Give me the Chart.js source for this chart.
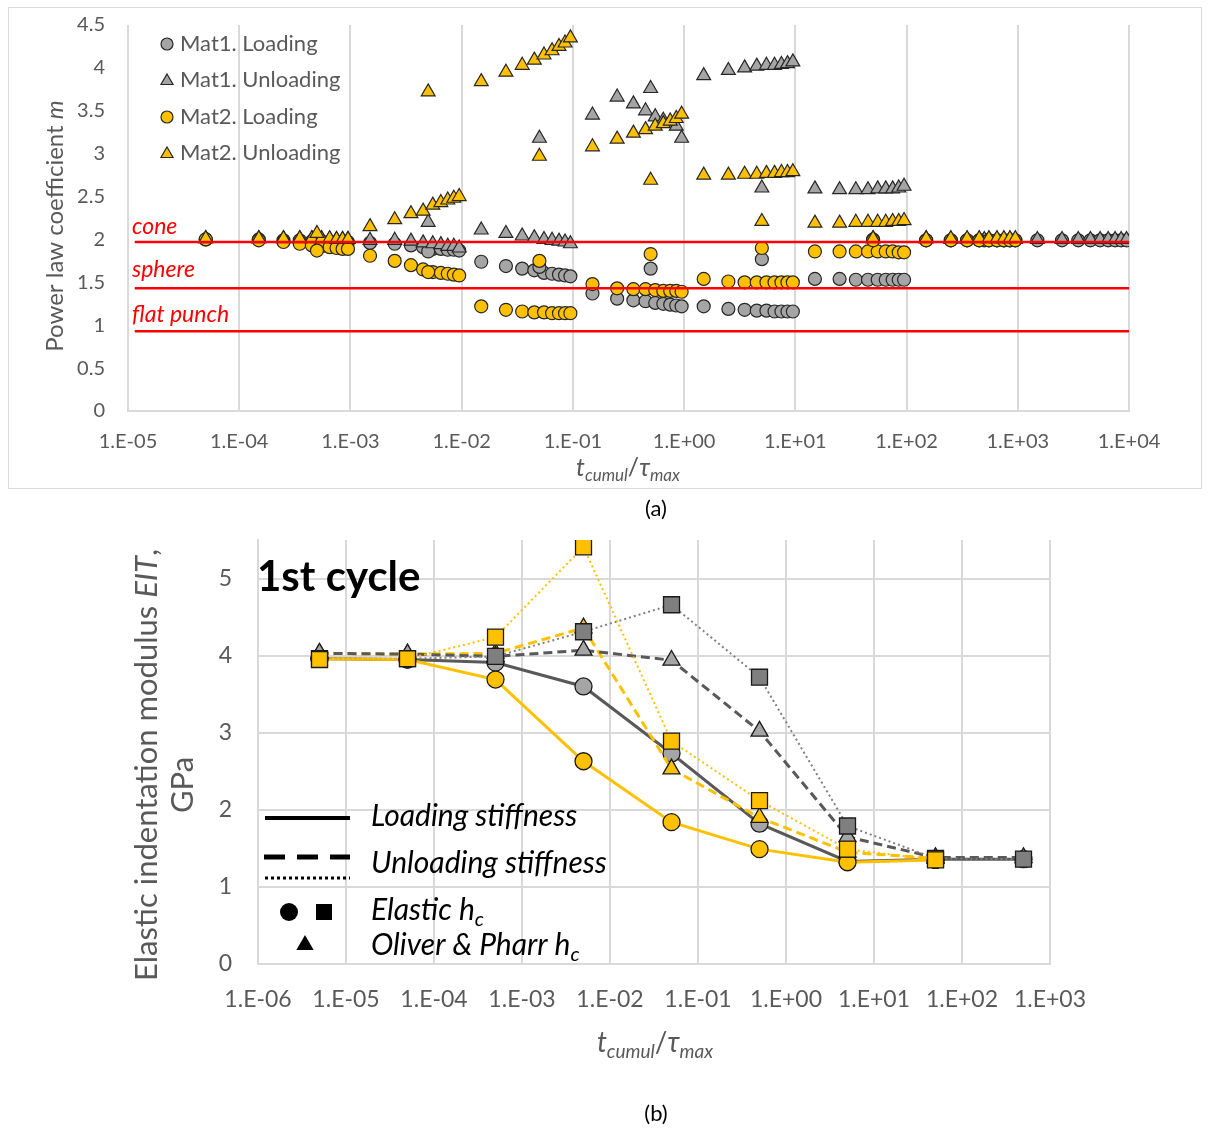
<!DOCTYPE html>
<html><head><meta charset="utf-8">
<script src="https://cdn.jsdelivr.net/npm/chart.js@4.4.1/dist/chart.umd.min.js"></script>
<style>
html,body{margin:0;padding:0;background:#fff;}
body{width:1209px;height:1131px;position:relative;overflow:hidden;font-family:Lato,"Open Sans",sans-serif;}
#boxA{position:absolute;left:8px;top:7px;width:1194px;height:482px;border:1px solid #d9d9d9;box-sizing:border-box;}
#cA{position:absolute;left:0;top:0;}
#cB{position:absolute;left:0;top:495px;}
.cap{position:absolute;width:100px;text-align:center;font:22px Lato,sans-serif;color:#000;}
</style></head>
<body>
<div id="boxA"></div>
<canvas id="cA" width="1209" height="492"></canvas>
<canvas id="cB" width="1209" height="636"></canvas>
<div class="cap" style="left:606px;top:494px;">(a)</div>
<div class="cap" style="left:606px;top:1099px;">(b)</div>
<script>
// ---------------- (a) data ----------------
const tTop = [5e-5,1.5e-4,2.5e-4,3.5e-4,4.5e-4,5.5e-4,6.5e-4,7.5e-4,8.5e-4,9.5e-4,
  5e-4,1.5e-3,2.5e-3,3.5e-3,4.5e-3,5.5e-3,6.5e-3,7.5e-3,8.5e-3,9.5e-3,
  5e-3,1.5e-2,2.5e-2,3.5e-2,4.5e-2,5.5e-2,6.5e-2,7.5e-2,8.5e-2,9.5e-2,
  5e-2,0.15,0.25,0.35,0.45,0.55,0.65,0.75,0.85,0.95,
  0.5,1.5,2.5,3.5,4.5,5.5,6.5,7.5,8.5,9.5,
  5,15,25,35,45,55,65,75,85,95,
  50,150,250,350,450,550,650,750,850,950,
  500,1500,2500,3500,4500,5500,6500,7500,8500,9500];
const mat1Loading = [2.00,2.00,1.99,1.99,1.98,1.98,1.97,1.97,1.97,1.97,
  1.97,1.96,1.95,1.93,1.91,1.89,1.89,1.88,1.88,1.87,
  1.86,1.74,1.69,1.66,1.64,1.61,1.60,1.59,1.58,1.57,
  1.68,1.37,1.31,1.29,1.28,1.26,1.25,1.24,1.23,1.22,
  1.66,1.22,1.19,1.18,1.17,1.17,1.16,1.16,1.16,1.16,
  1.77,1.54,1.54,1.53,1.53,1.53,1.53,1.53,1.53,1.53,
  2.00,1.99,1.99,1.99,1.99,1.99,1.99,1.99,1.99,1.99,
  1.99,1.99,1.99,1.99,1.99,1.99,1.99,1.99,1.99,1.99];
const mat1Unloading = [2.01,2.01,2.01,2.01,2.01,2.00,2.00,2.00,2.00,2.00,
  1.98,1.99,1.99,1.98,1.96,1.95,1.94,1.92,1.92,1.90,
  2.20,2.11,2.07,2.04,2.02,2.00,1.99,1.98,1.97,1.95,
  3.18,3.45,3.66,3.58,3.50,3.43,3.39,3.37,3.32,3.18,
  3.76,3.91,3.97,4.00,4.02,4.03,4.03,4.04,4.05,4.07,
  2.60,2.59,2.58,2.58,2.58,2.59,2.59,2.59,2.60,2.62,
  2.01,2.01,2.00,2.00,2.00,2.00,2.00,2.00,2.00,2.00,
  2.00,2.00,2.00,2.00,2.00,2.00,2.00,2.00,2.00,2.00];
const mat2Loading = [2.00,1.99,1.97,1.95,1.93,1.92,1.91,1.90,1.89,1.89,
  1.87,1.81,1.75,1.70,1.65,1.62,1.61,1.60,1.59,1.58,
  1.62,1.22,1.18,1.16,1.15,1.15,1.14,1.14,1.14,1.14,
  1.75,1.48,1.43,1.42,1.42,1.41,1.40,1.40,1.40,1.39,
  1.83,1.54,1.51,1.50,1.50,1.50,1.50,1.50,1.50,1.50,
  1.90,1.86,1.86,1.86,1.86,1.86,1.86,1.86,1.85,1.85,
  1.99,1.99,1.99,1.99,1.99,1.99,1.99,1.99,1.99,1.99,
  null,null,null,null,null,null,null,null,null,null];
const mat2Unloading = [2.01,2.01,2.01,2.01,2.01,2.01,2.01,2.00,2.00,2.00,
  2.07,2.15,2.23,2.30,2.33,2.40,2.43,2.46,2.48,2.50,
  3.72,3.84,3.95,4.03,4.09,4.15,4.20,4.25,4.29,4.35,
  2.97,3.08,3.17,3.24,3.28,3.32,3.35,3.38,3.41,3.46,
  2.69,2.75,2.75,2.76,2.76,2.77,2.77,2.78,2.78,2.79,
  2.21,2.19,2.19,2.20,2.20,2.20,2.20,2.21,2.21,2.22,
  2.01,2.01,2.01,2.01,2.01,2.01,2.01,2.01,2.01,2.01,
  null,null,null,null,null,null,null,null,null,null];
const refLineX = [1.15e-5, 1e4];
const refLineNames = ['cone','sphere','flat punch'];
const refLineM = [1.97, 1.43, 0.93];
const topXTicks = [1e-5,1e-4,1e-3,1e-2,1e-1,1,10,100,1000,10000];
const topXTickLabels = ['1.E-05','1.E-04','1.E-03','1.E-02','1.E-01','1.E+00','1.E+01','1.E+02','1.E+03','1.E+04'];
const topYTicks = [0,0.5,1,1.5,2,2.5,3,3.5,4,4.5];
const topYTickLabels = ['0','0.5','1','1.5','2','2.5','3','3.5','4','4.5'];
const topLegend = ['Mat1. Loading','Mat1. Unloading','Mat2. Loading','Mat2. Unloading'];

// ---------------- (b) data ----------------
const tCycle = [5e-6,5e-5,5e-4,5e-3,5e-2,5e-1,5,50,500];
const mat1LoadElastic   = [3.96,3.95,3.91,3.60,2.73,1.82,1.33,1.36,1.36];
const mat2LoadElastic   = [3.96,3.95,3.69,2.63,1.84,1.49,1.32,1.35,null];
const mat1UnloadOP      = [4.03,4.02,3.99,4.07,3.94,3.02,1.65,1.38,1.38];
const mat1UnloadElastic = [3.96,3.96,3.99,4.31,4.66,3.72,1.79,1.37,1.36];
const mat2UnloadOP      = [4.03,4.02,4.03,4.36,2.53,1.90,1.45,1.37,null];
const mat2UnloadElastic = [3.95,3.96,4.24,5.41,2.89,2.12,1.49,1.35,null];
const botXTicks = [1e-6,1e-5,1e-4,1e-3,1e-2,1e-1,1,10,100,1000];
const botXTickLabels = ['1.E-06','1.E-05','1.E-04','1.E-03','1.E-02','1.E-01','1.E+00','1.E+01','1.E+02','1.E+03'];
const botYTicks = [0,1,2,3,4,5];
const botYTickLabels = ['0','1','2','3','4','5'];

// ---------------- helpers ----------------
const GOLD = '#FFC000', GREY = '#A5A5A5', DGREY = '#7F7F7F', LINEGREY = '#595959', TXT = '#595959';
Chart.defaults.font.family = 'Lato';
function pts(xs, ys){ const out=[]; xs.forEach((x,i)=>{ if(ys[i]!=null) out.push({x:x,y:ys[i]}); }); return out; }

function marker(ctx, style, x, y, size, fill, stroke, lw){
  ctx.save(); ctx.beginPath();
  if(style==='circle'){ ctx.arc(x,y,size,0,Math.PI*2); }
  else if(style==='triangle'){ const w=size*1.732/2; ctx.moveTo(x,y-size); ctx.lineTo(x+w, y+size*0.5); ctx.lineTo(x-w,y+size*0.5); ctx.closePath(); }
  else { ctx.rect(x-size,y-size,2*size,2*size); }
  ctx.fillStyle=fill; ctx.fill();
  if(lw){ ctx.lineWidth=lw; ctx.strokeStyle=stroke; ctx.stroke(); }
  ctx.restore();
}
// parts: [{t, it, sub, bold}]
function rich(ctx, parts, cx, cy, size, color, align){
  const subSize = Math.round(size*0.68);
  let w=0;
  parts.forEach(p=>{ ctx.font=(p.it?'italic ':'')+(p.bold?'bold ':'')+(p.sub?subSize:size)+'px Lato'; p.w=ctx.measureText(p.t).width; w+=p.w; });
  let x = align==='left'? cx : cx - w/2;
  ctx.fillStyle=color; ctx.textBaseline='middle'; ctx.textAlign='left';
  parts.forEach(p=>{ ctx.font=(p.it?'italic ':'')+(p.bold?'bold ':'')+(p.sub?subSize:size)+'px Lato'; ctx.fillText(p.t, x, cy + (p.sub? size*0.32:0)); x+=p.w; });
}

// ---------------- chart (a) ----------------
const overlayA = { id:'overlayA', afterDraw(chart){
  const ctx=chart.ctx;
  ctx.save(); ctx.translate(55,226); ctx.rotate(-Math.PI/2);
  rich(ctx,[{t:'Power law coefficient '},{t:'m',it:true}],0,0,24,TXT);
  ctx.restore();
  rich(ctx,[{t:'t',it:true},{t:'cumul',it:true,sub:true},{t:'/'},{t:'τ',it:true},{t:'max',it:true,sub:true}],628,468,25,TXT);
  const lgY=[44,80,117,153], lgStyle=['circle','triangle','circle','triangle'], lgFill=[GREY,GREY,GOLD,GOLD];
  topLegend.forEach((s,i)=>{
    marker(ctx,lgStyle[i],167,lgY[i]+(lgStyle[i]==='triangle'?1:0),lgStyle[i]==='circle'?6:7,lgFill[i],'#262626',1.2);
    rich(ctx,[{t:s}],180,lgY[i],22,TXT,'left');
  });
  const lbY=[227,270,315];
  refLineNames.forEach((s,i)=>rich(ctx,[{t:s,it:true}],132,lbY[i],23,'#FF0000','left'));
}};

function topDs(label, ys, style, fill, r, order){
  return {label, data: pts(tTop, ys), showLine:false, pointStyle:style, pointRadius:r, pointHoverRadius:r,
    pointBackgroundColor:fill, pointBorderColor:'#262626', pointBorderWidth:1.2, order};
}
const refSets = refLineM.map((m,i)=>({label:refLineNames[i], data: refLineX.map(x=>({x:x,y:m})), showLine:true,
  borderColor:'#FF0000', borderWidth:2.5, pointRadius:0, order:0}));

new Chart(document.getElementById('cA'), {
  type:'scatter',
  data:{ datasets:[
    ...refSets,
    topDs('Mat2. Unloading', mat2Unloading, 'triangle', GOLD, 8, 1),
    topDs('Mat2. Loading', mat2Loading, 'circle', GOLD, 6.5, 2),
    topDs('Mat1. Unloading', mat1Unloading, 'triangle', GREY, 8, 3),
    topDs('Mat1. Loading', mat1Loading, 'circle', GREY, 6.5, 4)
  ]},
  options:{
    responsive:false, animation:false, devicePixelRatio:1,
    layout:{padding:{top:25,right:80,bottom:0,left:0}},
    plugins:{legend:{display:false}, tooltip:{enabled:false}},
    scales:{
      x:{type:'logarithmic', min:1e-5, max:1e4,
        afterBuildTicks:s=>{ s.ticks = topXTicks.map(v=>({value:v})); },
        afterFit:s=>{ s.height=81; s.paddingLeft=0; s.paddingRight=0; },
        ticks:{callback:v=>topXTickLabels[topXTicks.indexOf(v)], color:TXT, font:{size:20}, padding:19, autoSkip:false, maxRotation:0},
        grid:{color:'#d9d9d9', lineWidth:2, drawTicks:false},
        border:{display:true, color:'#d9d9d9', width:2}},
      y:{type:'linear', min:0, max:4.5,
        afterBuildTicks:s=>{ s.ticks = topYTicks.map(v=>({value:v})); },
        afterFit:s=>{ s.width=128; s.paddingTop=0; s.paddingBottom=0; },
        ticks:{callback:v=>topYTickLabels[topYTicks.indexOf(v)], color:TXT, font:{size:20}, padding:23},
        grid:{display:false, drawTicks:false}, border:{display:false}}
    }
  },
  plugins:[overlayA]
});

// ---------------- chart (b) ----------------
const OY = 495;
const overlayB = { id:'overlayB', afterDraw(chart){
  const ctx=chart.ctx;
  ctx.save(); ctx.translate(147,765-OY); ctx.rotate(-Math.PI/2);
  rich(ctx,[{t:'Elastic indentation modulus '},{t:'EIT',it:true},{t:','}],0,0,31,TXT);
  ctx.restore();
  ctx.save(); ctx.translate(183,785-OY); ctx.rotate(-Math.PI/2);
  rich(ctx,[{t:'GPa'}],0,0,31,TXT);
  ctx.restore();
  rich(ctx,[{t:'t',it:true},{t:'cumul',it:true,sub:true},{t:'/'},{t:'τ',it:true},{t:'max',it:true,sub:true}],655,1043-OY,28,TXT);
  ctx.save(); ctx.font='bold 42px Lato'; ctx.fillStyle='#000'; ctx.textBaseline='middle'; ctx.textAlign='left';
  ctx.fillText('1st cycle',257,577-OY); ctx.restore();
  ctx.save(); ctx.strokeStyle='#000';
  ctx.lineWidth=4; ctx.setLineDash([]); ctx.beginPath(); ctx.moveTo(265,818-OY); ctx.lineTo(350,818-OY); ctx.stroke();
  ctx.lineWidth=5; ctx.setLineDash([21,12]); ctx.beginPath(); ctx.moveTo(264,857-OY); ctx.lineTo(350,857-OY); ctx.stroke();
  ctx.lineWidth=3; ctx.setLineDash([3,3]); ctx.beginPath(); ctx.moveTo(265,878-OY); ctx.lineTo(350,878-OY); ctx.stroke();
  ctx.restore();
  marker(ctx,'circle',289,912-OY,9,'#000','#000',0);
  marker(ctx,'square',324,912-OY,8,'#000','#000',0);
  marker(ctx,'triangle',305,945-OY,10,'#000','#000',0);
  rich(ctx,[{t:'Loading stiffness',it:true}],371,816-OY,30,'#000','left');
  rich(ctx,[{t:'Unloading stiffness',it:true}],371,863-OY,30,'#000','left');
  rich(ctx,[{t:'Elastic ',it:true},{t:'h',it:true},{t:'c',it:true,sub:true}],371,910-OY,30,'#000','left');
  rich(ctx,[{t:'Oliver & Pharr ',it:true},{t:'h',it:true},{t:'c',it:true,sub:true}],371,945-OY,30,'#000','left');
}};

function botDs(label, ys, style, fill, r, color, width, dash, order){
  return {label, data: pts(tCycle, ys), showLine:true, borderColor:color, borderWidth:width, borderDash:dash,
    pointStyle:style, pointRadius:r, pointHoverRadius:r, pointBackgroundColor:fill, pointBorderColor:'#1a1a1a',
    pointBorderWidth:1.3, order, tension:0};
}
new Chart(document.getElementById('cB'), {
  type:'scatter',
  data:{ datasets:[
    botDs('Mat2 unloading, elastic hc', mat2UnloadElastic, 'rect', GOLD, 11.3, GOLD, 2, [2,3], 1),
    botDs('Mat1 unloading, elastic hc', mat1UnloadElastic, 'rect', DGREY, 11.3, '#808080', 2, [2,3], 2),
    botDs('Mat1 unloading, O&P hc', mat1UnloadOP, 'triangle', GREY, 9.8, LINEGREY, 3, [9,5], 3),
    botDs('Mat2 unloading, O&P hc', mat2UnloadOP, 'triangle', GOLD, 9.8, GOLD, 3, [9,5], 4),
    botDs('Mat2 loading, elastic hc', mat2LoadElastic, 'circle', GOLD, 8.5, GOLD, 3, [], 5),
    botDs('Mat1 loading, elastic hc', mat1LoadElastic, 'circle', GREY, 8.5, LINEGREY, 3, [], 6)
  ]},
  options:{
    responsive:false, animation:false, devicePixelRatio:1,
    layout:{padding:{top:45,right:159,bottom:0,left:0}},
    plugins:{legend:{display:false}, tooltip:{enabled:false}},
    scales:{
      x:{type:'logarithmic', min:1e-6, max:1e3,
        afterBuildTicks:s=>{ s.ticks = botXTicks.map(v=>({value:v})); },
        afterFit:s=>{ s.height=167; s.paddingLeft=0; s.paddingRight=0; },
        ticks:{callback:v=>botXTickLabels[botXTicks.indexOf(v)], color:TXT, font:{size:23}, padding:22, autoSkip:false, maxRotation:0},
        grid:{color:'#d9d9d9', lineWidth:2, drawTicks:false},
        border:{display:true, color:'#d9d9d9', width:2}},
      y:{type:'linear', min:0, max:5.5,
        afterBuildTicks:s=>{ s.ticks = botYTicks.map(v=>({value:v})); },
        afterFit:s=>{ s.width=258; s.paddingTop=0; s.paddingBottom=0; },
        ticks:{callback:v=>botYTickLabels[botYTicks.indexOf(v)], color:TXT, font:{size:23}, padding:26},
        grid:{color:'#d9d9d9', lineWidth:2, drawTicks:false},
        border:{display:true, color:'#d9d9d9', width:2}}
    }
  },
  plugins:[overlayB]
});
</script>
</body></html>
